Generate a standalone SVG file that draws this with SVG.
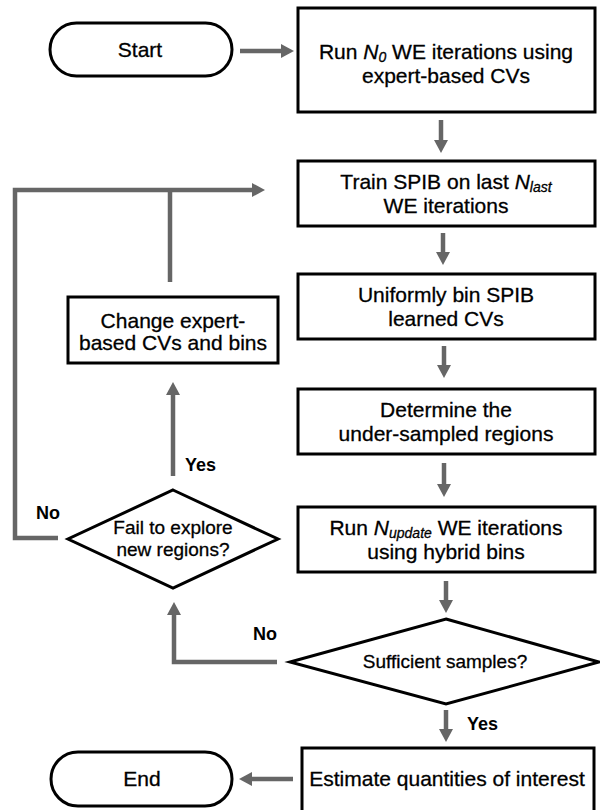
<svg xmlns="http://www.w3.org/2000/svg" width="600" height="810" viewBox="0 0 600 810">
<style>
.box{fill:#fff;stroke:#000;stroke-width:3}
.conn{fill:none;stroke:#666;stroke-width:4.5}
.t{font-family:"Liberation Sans",Arial,sans-serif;font-size:21px;fill:#000;stroke:#000;stroke-width:0.3;text-anchor:middle}
.d{font-size:19px}
.lbl{font-family:"Liberation Sans",Arial,sans-serif;font-size:18px;font-weight:bold;fill:#000}
.it{font-style:italic}
.sub{font-style:italic;font-size:14px}
</style>
<defs>
<marker id="ah" markerUnits="userSpaceOnUse" markerWidth="14" markerHeight="14" viewBox="0 0 13 14" refX="0" refY="7" orient="auto">
<path d="M0,0 L13,7 L0,14 Z" fill="#666"/>
</marker>
</defs>
<rect width="600" height="810" fill="#fff"/>
<g id="connectors">
<line class="conn" x1="240" y1="51" x2="281" y2="51" marker-end="url(#ah)"/>
<line class="conn" x1="441" y1="120" x2="441" y2="140" marker-end="url(#ah)"/>
<line class="conn" x1="443" y1="233" x2="443" y2="252" marker-end="url(#ah)"/>
<line class="conn" x1="444" y1="346" x2="444" y2="365" marker-end="url(#ah)"/>
<line class="conn" x1="444" y1="463" x2="444" y2="484" marker-end="url(#ah)"/>
<line class="conn" x1="446" y1="581" x2="446" y2="600" marker-end="url(#ah)"/>
<line class="conn" x1="446" y1="710" x2="446" y2="729" marker-end="url(#ah)"/>
<line class="conn" x1="293" y1="779" x2="252" y2="779" marker-end="url(#ah)"/>
<path class="conn" d="M277,662 H174 V615" marker-end="url(#ah)"/>
<line class="conn" x1="173" y1="476" x2="173" y2="395" marker-end="url(#ah)"/>
<path class="conn" d="M58,538 H15 V190 H252" marker-end="url(#ah)"/>
<line class="conn" x1="170" y1="282" x2="170" y2="190"/>
<text class="lbl" x="467" y="730">Yes</text>
<text class="lbl" x="265" y="640" text-anchor="middle">No</text>
<text class="lbl" x="185" y="471">Yes</text>
<text class="lbl" x="36" y="519">No</text>
</g>
<g id="start">
<rect class="box" x="50" y="23" width="182" height="53" rx="26.5"/>
<text class="t" x="140" y="57">Start</text>
</g>
<g id="run0">
<rect class="box" x="298" y="8" width="297" height="104"/>
<text class="t" x="446" y="59">Run <tspan class="it">N</tspan><tspan class="sub" dy="2.5">0</tspan><tspan dy="-2.5"> WE iterations using</tspan></text>
<text class="t" x="446" y="83">expert-based CVs</text>
</g>
<g id="train">
<rect class="box" x="298" y="161" width="297" height="65"/>
<text class="t" x="446" y="189">Train SPIB on last <tspan class="it">N</tspan><tspan class="sub" dy="2.5">last</tspan></text>
<text class="t" x="446" y="213">WE iterations</text>
</g>
<g id="uniform">
<rect class="box" x="298" y="274" width="297" height="65"/>
<text class="t" x="446" y="302">Uniformly bin SPIB</text>
<text class="t" x="446" y="326">learned CVs</text>
</g>
<g id="determine">
<rect class="box" x="298" y="389" width="297" height="65"/>
<text class="t" x="446" y="417">Determine the</text>
<text class="t" x="446" y="441">under-sampled regions</text>
</g>
<g id="runupdate">
<rect class="box" x="298" y="507" width="297" height="65"/>
<text class="t" x="446" y="535">Run <tspan class="it">N</tspan><tspan class="sub" dy="2.5">update</tspan><tspan dy="-2.5"> WE iterations</tspan></text>
<text class="t" x="446" y="559">using hybrid bins</text>
</g>
<g id="sufficient">
<polygon class="box" points="446,619 599,662 446,704 290,662"/>
<text class="t d" x="445" y="668">Sufficient samples?</text>
</g>
<g id="estimate">
<rect class="box" x="302" y="748" width="292" height="70"/>
<text class="t" x="447" y="786">Estimate quantities of interest</text>
</g>
<g id="end">
<rect class="box" x="51" y="752" width="181" height="54" rx="27"/>
<text class="t" x="142" y="786">End</text>
</g>
<g id="change">
<rect class="box" x="68" y="297" width="210" height="66"/>
<text class="t" x="173" y="328">Change expert-</text>
<text class="t" x="173" y="350">based CVs and bins</text>
</g>
<g id="fail">
<polygon class="box" points="173,490 278,539 173,588 68,539"/>
<text class="t d" x="173" y="534">Fail to explore</text>
<text class="t d" x="173" y="556">new regions?</text>
</g>
</svg>
